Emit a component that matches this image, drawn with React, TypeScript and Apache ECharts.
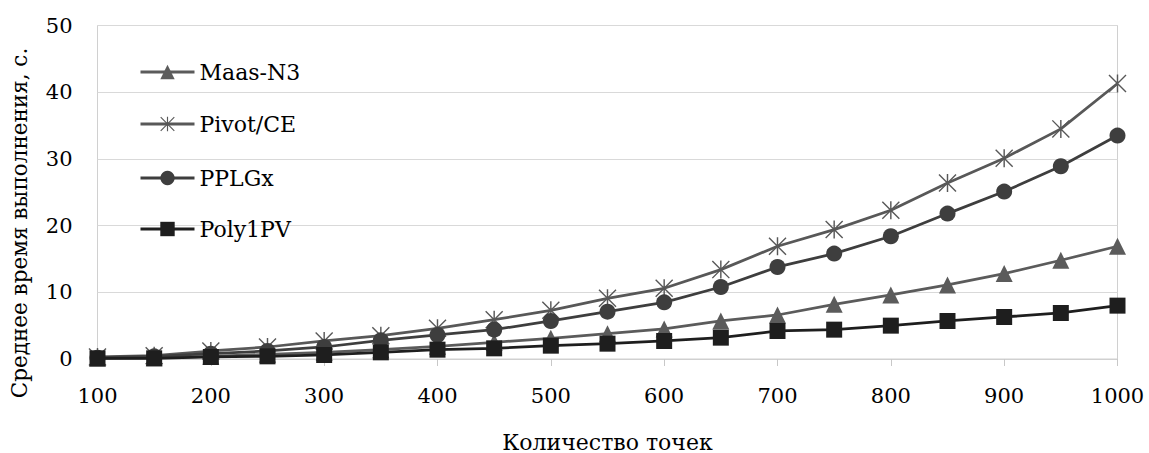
import React, { useEffect, useRef } from "react";
import * as echarts from "echarts";

const categories = ["100", "150", "200", "250", "300", "350", "400", "450", "500", "550", "600", "650", "700", "750", "800", "850", "900", "950", "1000"];
const maasN3 = [0.1, 0.2, 0.4, 0.7, 1.0, 1.4, 1.9, 2.5, 3.1, 3.8, 4.5, 5.7, 6.6, 8.2, 9.6, 11.1, 12.8, 14.8, 16.9];
const pivotCE = [0.3, 0.5, 1.2, 1.8, 2.7, 3.5, 4.6, 5.9, 7.3, 9.1, 10.6, 13.4, 16.9, 19.4, 22.3, 26.4, 30.1, 34.5, 41.3];
const pplgx = [0.2, 0.4, 0.8, 1.2, 1.8, 2.8, 3.6, 4.4, 5.7, 7.1, 8.5, 10.8, 13.8, 15.8, 18.4, 21.8, 25.1, 28.9, 33.5];
const poly1pv = [0.1, 0.1, 0.3, 0.4, 0.6, 1.0, 1.4, 1.6, 2.0, 2.3, 2.7, 3.2, 4.2, 4.4, 5.0, 5.7, 6.3, 6.9, 8.0];
const seriesNames = ["Maas-N3", "Pivot/CE", "PPLGx", "Poly1PV"];
const yTicks = { min: 0, max: 50, interval: 10 };
const xTitle = "Количество точек";
const yTitle = "Среднее время выполнения, с.";

const FONT = "'DejaVu Serif', serif";
const STAR =
  "path://M9.2 0 L10.8 0 L10.8 20 L9.2 20 Z M1.1 0 L20 18.9 L18.9 20 L0 1.1 Z M18.9 0 L20 1.1 L1.1 20 L0 18.9 Z";

export default function App() {
  const ref = useRef<HTMLDivElement>(null);
  useEffect(() => {
    if (!ref.current) return;
    const chart = echarts.init(ref.current, undefined, { renderer: "svg" });
    const colors = ["#5b5b5b", "#585858", "#3e3e3e", "#1e1e1e"];
    const data = [maasN3, pivotCE, pplgx, poly1pv];
    const symbols = ["triangle", STAR, "circle", "rect"];
    const sizes = [17, 18, 16, 16];
    const legendTops = [61, 113, 167, 218];
    chart.setOption({
      animation: false,
      backgroundColor: "#ffffff",
      textStyle: { fontFamily: FONT },
      grid: {
        left: 97.5,
        right: 31.5,
        top: 25.5,
        bottom: 94,
        show: true,
        borderColor: "#d0d0d0",
        borderWidth: 1,
        containLabel: false,
        outerBoundsMode: "none",
      },
      legend: seriesNames.map((n, i) => ({
        data: [n],
        left: 139,
        top: legendTops[i],
        padding: 0,
        itemWidth: 54,
        itemHeight: 18,
        lineStyle: { width: 3 },
        textStyle: { fontFamily: FONT, fontSize: 22, color: "#000", lineHeight: 22 },
      })),
      xAxis: {
        type: "category",
        data: categories,
        boundaryGap: false,
        axisLine: { show: true, lineStyle: { color: "#d0d0d0", width: 1 } },
        axisTick: { show: true, interval: 1, length: 7, lineStyle: { color: "#c8c8c8", width: 1 } },
        axisLabel: { interval: 1, fontFamily: FONT, fontSize: 21, color: "#000", margin: 26 },
        splitLine: { show: false },
        name: xTitle,
        nameLocation: "middle",
        nameGap: 72,
        nameTextStyle: { fontFamily: FONT, fontSize: 22, color: "#000" },
      },
      yAxis: {
        type: "value",
        min: yTicks.min,
        max: yTicks.max,
        interval: yTicks.interval,
        axisLine: { show: false },
        axisTick: { show: false },
        axisLabel: { fontFamily: FONT, fontSize: 21, color: "#000", margin: 25 },
        splitLine: { show: true, lineStyle: { color: "#d9d9d9", width: 1 } },
      },
      graphic: [
        {
          type: "text",
          x: 19,
          y: 223,
          rotation: Math.PI / 2,
          style: {
            text: yTitle,
            fontFamily: FONT,
            fontSize: 21.5,
            fill: "#000",
            align: "center",
            verticalAlign: "middle",
          },
        },
      ],
      series: seriesNames.map((n, i) => ({
        name: n,
        type: "line",
        data: data[i],
        symbol: symbols[i],
        symbolSize: sizes[i],
        showAllSymbol: true,
        lineStyle: { color: colors[i], width: 2.75 },
        itemStyle: { color: colors[i] },
        z: 2 + i,
      })),
    });
    return () => chart.dispose();
  }, []);
  return <div ref={ref} style={{ position: "fixed", left: 0, top: 0, width: 1149, height: 453 }} />;
}
